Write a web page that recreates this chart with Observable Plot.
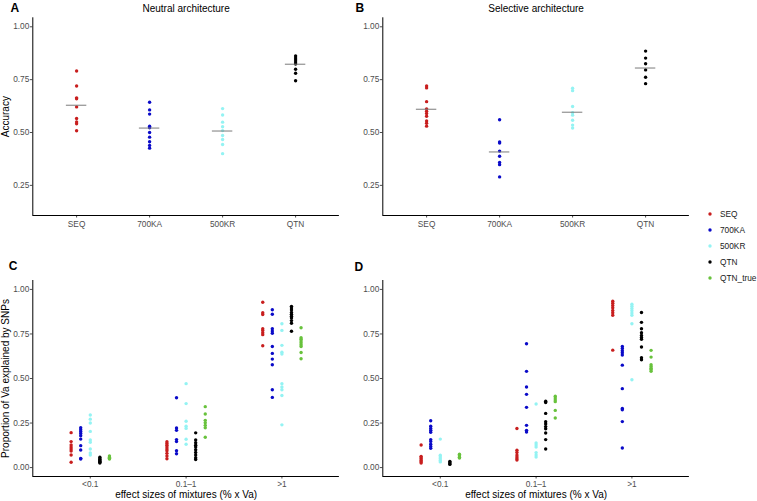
<!DOCTYPE html>
<html><head><meta charset="utf-8">
<script src="https://cdn.jsdelivr.net/npm/d3@7"></script>
<script src="https://cdn.jsdelivr.net/npm/@observablehq/plot@0.6"></script>
<style>
body{margin:0;background:#fff;}
#wrap{position:relative;width:757px;height:501px;font-family:"Liberation Sans",Arial,sans-serif;}
.panel{position:absolute;}
#legend{position:absolute;left:706px;top:206.4px;font-size:8.3px;color:#1a1a1a;}
#legend .row{height:15.85px;display:flex;align-items:center;}
#legend svg{width:8px;height:8px;margin-right:6px;}
</style></head><body><div id="wrap"></div>
<script>
// categories
const methods = ["SEQ", "700KA", "500KR", "QTN"];
const series = ["SEQ", "700KA", "500KR", "QTN", "QTN_true"];
const colors = ["#c81e1e", "#0a0ac8", "#94f3f3", "#000000", "#68c23c"];
const groups = ["<0.1", "0.1–1", ">1"];
const accTicks = [0.25, 0.5, 0.75, 1.0];
const propTicks = [0, 0.25, 0.5, 0.75, 1.0];

// Panel A: neutral architecture accuracy
const neutralSEQ = [0.791, 0.720, 0.664, 0.660, 0.621, 0.566, 0.550, 0.541, 0.508];
const neutral700KA = [0.643, 0.607, 0.587, 0.530, 0.522, 0.500, 0.478, 0.456, 0.439, 0.426];
const neutral500KR = [0.613, 0.583, 0.549, 0.527, 0.509, 0.486, 0.467, 0.443, 0.400];
const neutralQTN = [0.862, 0.852, 0.843, 0.833, 0.824, 0.799, 0.780, 0.745];
const neutralMeans = [0.629, 0.521, 0.507, 0.823];

// Panel B: selective architecture accuracy
const selectiveSEQ = [0.720, 0.711, 0.646, 0.612, 0.601, 0.590, 0.577, 0.555, 0.544, 0.530];
const selective700KA = [0.560, 0.455, 0.450, 0.412, 0.388, 0.358, 0.348, 0.290];
const selective500KR = [0.709, 0.698, 0.623, 0.594, 0.582, 0.558, 0.535, 0.521];
const selectiveQTN = [0.885, 0.852, 0.825, 0.796, 0.761, 0.731];
const selectiveMeans = [0.610, 0.408, 0.596, 0.805];

// Panel C: neutral, proportion of Va by effect-size class [<0.1, 0.1-1, >1]
const cSEQ = [[0.196,0.146,0.127,0.115,0.104,0.093,0.071,0.030],
              [0.145,0.135,0.125,0.115,0.105,0.095,0.080,0.065,0.050],
              [0.928,0.869,0.859,0.779,0.770,0.757,0.746,0.684]];
const c700KA = [[0.224,0.213,0.202,0.191,0.179,0.160,0.123,0.099,0.052,0.048],
                [0.392,0.222,0.209,0.157,0.146,0.095,0.078],
                [0.886,0.861,0.779,0.766,0.754,0.680,0.641,0.609,0.577,0.437,0.394]];
const c500KR = [[0.295,0.272,0.250,0.203,0.155,0.142,0.104,0.082,0.071],
                [0.471,0.359,0.260,0.232,0.220,0.159,0.131],
                [0.807,0.770,0.686,0.648,0.637,0.471,0.452,0.437,0.405,0.240]];
const cQTN = [[0.058,0.050,0.045,0.040,0.035,0.030,0.026],
              [0.195,0.155,0.140,0.125,0.115,0.100,0.085,0.070,0.055,0.045],
              [0.905,0.895,0.885,0.870,0.860,0.850,0.840,0.825,0.810,0.765]];
const cQTNtrue = [[0.065,0.058,0.052,0.048],
                  [0.342,0.301,0.265,0.252,0.237,0.224,0.170],
                  [0.785,0.729,0.720,0.710,0.700,0.690,0.680,0.646,0.611]];

// Panel D: selective
const dSEQ = [[0.127,0.063,0.055,0.048,0.040,0.033,0.026],
              [0.219,0.097,0.085,0.070,0.060,0.050,0.042],
              [0.934,0.923,0.910,0.897,0.882,0.869,0.855,0.659]];
const d700KA = [[0.263,0.232,0.220,0.209,0.198,0.157,0.147,0.131,0.119,0.108],
                [0.695,0.540,0.452,0.411,0.338,0.237,0.209,0.200],
                [0.680,0.669,0.656,0.645,0.632,0.575,0.443,0.332,0.325,0.258,0.110]];
const d500KR = [[0.160,0.069,0.060,0.050,0.040,0.032],
                [0.357,0.138,0.127,0.115,0.084,0.071,0.059],
                [0.917,0.906,0.893,0.880,0.867,0.855,0.807,0.493]];
const dQTN = [[0.035,0.028,0.022,0.018],
              [0.373,0.365,0.304,0.257,0.245,0.230,0.218,0.194,0.157,0.104],
              [0.870,0.815,0.779,0.757,0.742,0.730,0.720,0.677,0.617,0.605]];
const dQTNtrue = [[0.075,0.066,0.058,0.054],
                  [0.400,0.390,0.380,0.370,0.321,0.278],
                  [0.658,0.620,0.577,0.567,0.558,0.550,0.541]];

const FONT = '"Liberation Sans", Arial, Helvetica, sans-serif';
const baseStyle = {fontFamily: FONT, fontSize: "8.3px", color: "#4d4d4d", background: "transparent", overflow: "visible"};
const label = (txt, o) => Plot.text([txt], {fill: "black", lineAnchor: "middle", textAnchor: "middle", ...o});

function accuracyPanel({values, means, title, letter, yLabel, width, marginLeft, letterDx}) {
  const rows = methods.flatMap((m, i) => values[i].map(v => ({method: m, i, v})));
  const meanRows = means.map((v, i) => ({i, v}));
  const yDom = [0.1075, 1.0425];
  return Plot.plot({
    width, height: 240, marginLeft, marginRight: 1.1, marginTop: 17.3, marginBottom: 25,
    style: baseStyle,
    x: {type: "linear", domain: [-0.6, 3.6]},
    y: {domain: yDom},
    color: {domain: series, range: colors},
    marks: [
      Plot.axisX({ticks: [0, 1, 2, 3], tickFormat: i => methods[i], tickSize: 2.5, tickPadding: 2.6, label: null}),
      Plot.axisY({ticks: accTicks, tickFormat: d3.format(".2f"), tickSize: 2.5, tickPadding: 1, label: null}),
      Plot.ruleX([-0.6], {stroke: "black", strokeWidth: 1}),
      Plot.ruleY([yDom[0]], {stroke: "black", strokeWidth: 1}),
      Plot.dot(rows, {x: "i", y: "v", fill: "method", r: 1.7}),
      Plot.ruleY(meanRows, {y: "v", x1: d => d.i - 0.14, x2: d => d.i + 0.14, stroke: "#7a7a7a", strokeWidth: 1}),
      label(title, {frameAnchor: "top", dy: -8.8, fontSize: 10}),
      label(letter, {frameAnchor: "top-left", dx: letterDx, dy: -9.4, fontSize: 12, fontWeight: "bold", textAnchor: "start"}),
      yLabel ? label(yLabel, {frameAnchor: "left", dx: -27.3, rotate: -90, fontSize: 10}) : null
    ]
  });
}

function proportionPanel({data, letter, yLabel, width, marginLeft, letterDx, letterDy}) {
  const rows = series.flatMap((s, si) => groups.flatMap((g, gi) =>
    data[si][gi].map(v => ({series: s, x: gi + (si - 2) * 0.1, v}))));
  const yDom = [-0.05, 1.05];
  return Plot.plot({
    width, height: 261, marginLeft, marginRight: 1.1, marginTop: 40, marginBottom: 25,
    style: baseStyle,
    x: {type: "linear", domain: [-0.6, 2.6]},
    y: {domain: yDom},
    color: {domain: series, range: colors},
    marks: [
      Plot.axisX({ticks: [0, 1, 2], tickFormat: i => groups[i], tickSize: 2.5, tickPadding: 2.0, label: null}),
      Plot.axisY({ticks: propTicks, tickFormat: d3.format(".2f"), tickSize: 2.5, tickPadding: 1, label: null}),
      Plot.ruleX([-0.6], {stroke: "black", strokeWidth: 1}),
      Plot.ruleY([yDom[0]], {stroke: "black", strokeWidth: 1}),
      Plot.dot(rows, {x: "x", y: "v", fill: "series", r: 1.7}),
      label("effect sizes of mixtures (% x Va)", {frameAnchor: "bottom", dy: 18.6, fontSize: 10}),
      label(letter, {frameAnchor: "top-left", dx: letterDx, dy: letterDy, fontSize: 12, fontWeight: "bold", textAnchor: "start"}),
      yLabel ? label(yLabel, {frameAnchor: "left", dx: -27.3, rotate: -90, fontSize: 10}) : null
    ]
  });
}

const wrap = document.getElementById("wrap");
function place(node, left, top) {
  const d = document.createElement("div");
  d.className = "panel";
  d.style.left = left + "px";
  d.style.top = top + "px";
  d.appendChild(node);
  wrap.appendChild(d);
}

place(accuracyPanel({values: [neutralSEQ, neutral700KA, neutral500KR, neutralQTN], means: neutralMeans,
  title: "Neutral architecture", letter: "A", yLabel: "Accuracy", width: 340, marginLeft: 32.3, letterDx: -22.3}), 0, 0);
place(accuracyPanel({values: [selectiveSEQ, selective700KA, selective500KR, selectiveQTN], means: selectiveMeans,
  title: "Selective architecture", letter: "B", yLabel: null, width: 350, marginLeft: 42.3, letterDx: -27.3}), 340, 0);
place(proportionPanel({data: [cSEQ, c700KA, c500KR, cQTN, cQTNtrue], letter: "C",
  yLabel: "Proportion of Va explained by SNPs", width: 340, marginLeft: 32.3, letterDx: -24, letterDy: -14.3}), 0, 240);
place(proportionPanel({data: [dSEQ, d700KA, d500KR, dQTN, dQTNtrue], letter: "D",
  yLabel: null, width: 350, marginLeft: 42.3, letterDx: -28.3, letterDy: -13.1}), 340, 240);

// legend
const legend = document.createElement("div");
legend.id = "legend";
series.forEach((s, i) => {
  const row = document.createElement("div");
  row.className = "row";
  row.innerHTML = `<svg viewBox="0 0 8 8"><circle cx="4" cy="4" r="1.7" fill="${colors[i]}"/></svg><span>${s}</span>`;
  legend.appendChild(row);
});
wrap.appendChild(legend);
</script></body></html>
